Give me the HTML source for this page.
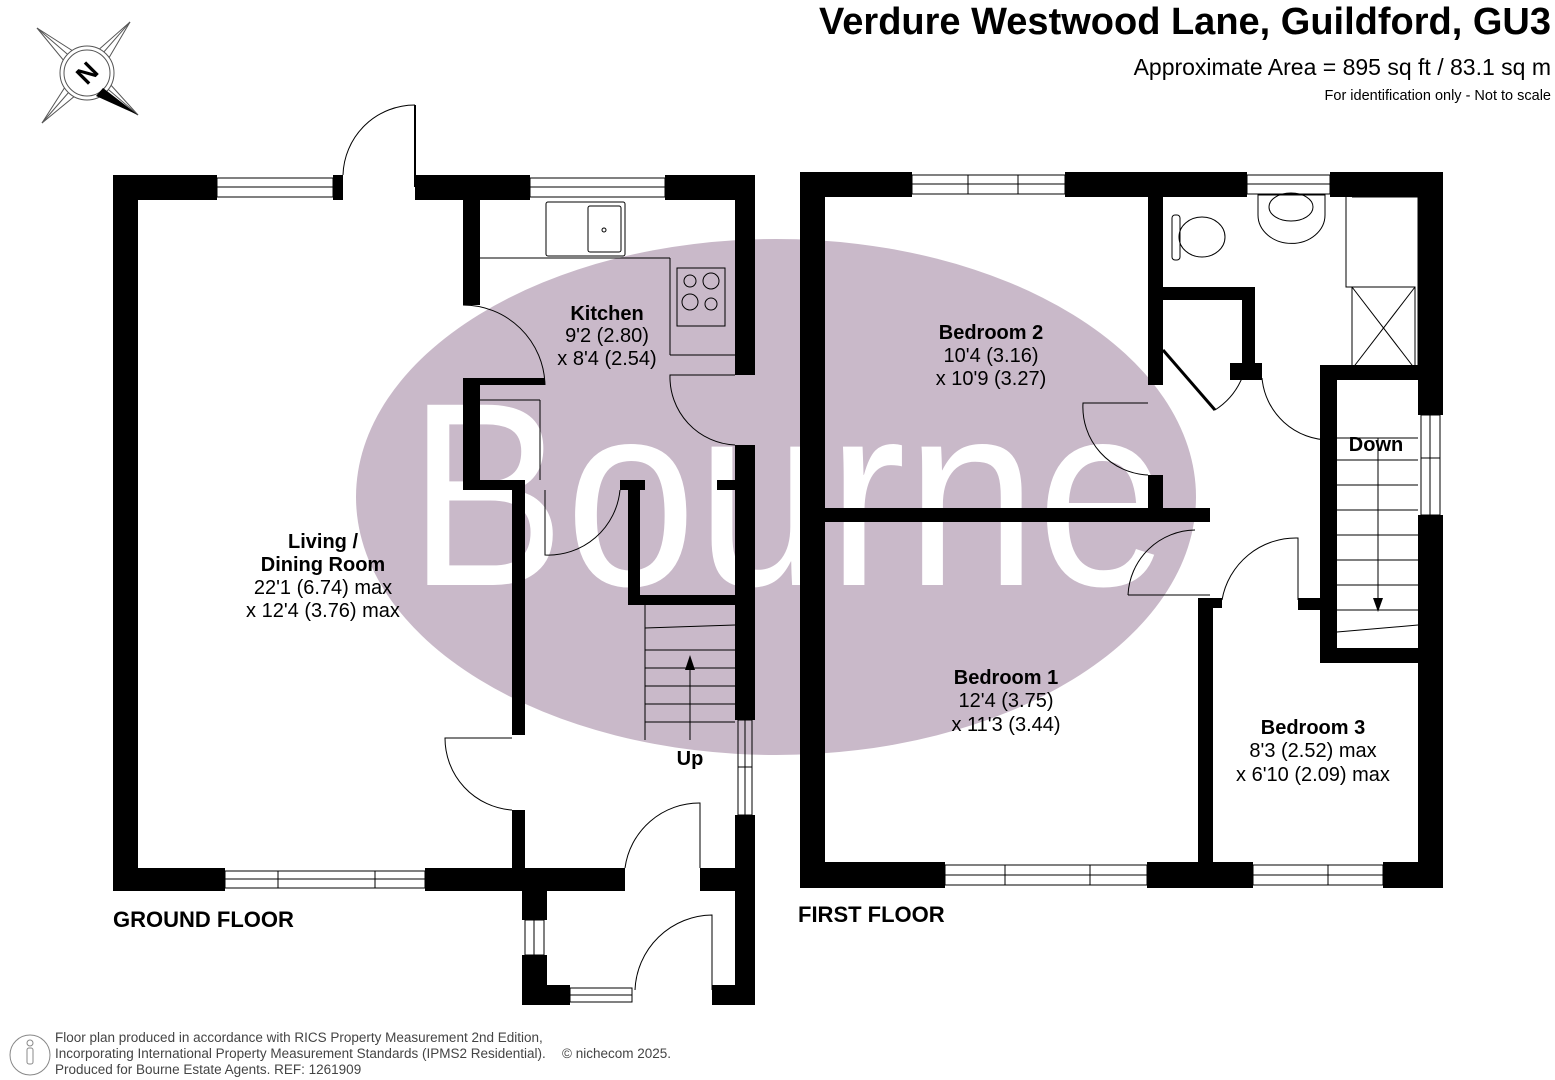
<!DOCTYPE html>
<html><head><meta charset="utf-8"><style>
html,body{margin:0;padding:0;background:#fff;}
svg{display:block;}
text{font-family:"Liberation Sans",Arial,sans-serif;}
</style></head><body>
<svg width="1555" height="1080" viewBox="0 0 1555 1080" xmlns="http://www.w3.org/2000/svg">
<rect width="1555" height="1080" fill="#fff"/>
<ellipse cx="776" cy="497" rx="420" ry="258" fill="#c9b9c9"/>
<text x="408" y="585" font-size="262" fill="#fff" textLength="760" lengthAdjust="spacingAndGlyphs">Bourne</text>

<g stroke="#555" stroke-width="1" fill="none">
<polygon points="37,28 87,60 130,22 100,73 138,115 87,86 42,123 74,73"/>
<line x1="37" y1="28" x2="138" y2="115"/><line x1="130" y1="22" x2="42" y2="123"/>
<circle cx="87" cy="73" r="27" fill="#fff"/><circle cx="87" cy="73" r="23"/>
</g>
<polygon points="103,88 138,115 96,96" fill="#000"/>
<text x="87" y="82" font-size="26" font-weight="bold" text-anchor="middle" transform="rotate(-45 87 73)">N</text>

<text x="1551" y="34" font-size="38" font-weight="bold" text-anchor="end">Verdure Westwood Lane, Guildford, GU3</text>
<text x="1551" y="75" font-size="23" text-anchor="end">Approximate Area = 895 sq ft / 83.1 sq m</text>
<text x="1551" y="100" font-size="14.5" text-anchor="end">For identification only - Not to scale</text>

<g fill="#000">
<rect x="113" y="175" width="25" height="716"/>
<rect x="113" y="175" width="104" height="25"/>
<rect x="333" y="175" width="10" height="25"/>
<rect x="415" y="175" width="115" height="25"/>
<rect x="665" y="175" width="90" height="25"/>
<rect x="735" y="175" width="20" height="200"/>
<rect x="735" y="445" width="20" height="275"/>
<rect x="735" y="815" width="20" height="190"/>
<rect x="463" y="200" width="17" height="105"/>
<rect x="463" y="378" width="17" height="112"/>
<rect x="463" y="378" width="82" height="7"/>
<rect x="463" y="480" width="62" height="10"/>
<rect x="512" y="480" width="13" height="255"/>
<rect x="512" y="810" width="13" height="60"/>
<rect x="620" y="480" width="25" height="10"/>
<rect x="628" y="480" width="12" height="125"/>
<rect x="628" y="595" width="107" height="10"/>
<rect x="717" y="480" width="18" height="10"/>
<rect x="113" y="868" width="112" height="23"/>
<rect x="425" y="868" width="200" height="23"/>
<rect x="700" y="868" width="55" height="23"/>
<rect x="522" y="890" width="25" height="30"/>
<rect x="522" y="955" width="25" height="50"/>
<rect x="522" y="985" width="48" height="20"/>
<rect x="712" y="985" width="43" height="20"/>

<rect x="800" y="172" width="25" height="716"/>
<rect x="800" y="172" width="112" height="25"/>
<rect x="1065" y="172" width="182" height="25"/>
<rect x="1330" y="172" width="113" height="25"/>
<rect x="1418" y="172" width="25" height="243"/>
<rect x="1418" y="515" width="25" height="373"/>
<rect x="800" y="862" width="145" height="26"/>
<rect x="1147" y="862" width="106" height="26"/>
<rect x="1383" y="862" width="60" height="26"/>
<rect x="1148" y="197" width="15" height="188"/>
<rect x="1148" y="475" width="15" height="35"/>
<rect x="825" y="508" width="385" height="14"/>
<rect x="1163" y="287" width="92" height="13"/>
<rect x="1242" y="287" width="13" height="91"/>
<rect x="1230" y="363" width="32" height="17"/>
<rect x="1320" y="365" width="98" height="15"/>
<rect x="1320" y="365" width="17" height="298"/>
<rect x="1320" y="648" width="98" height="15"/>
<rect x="1198" y="598" width="15" height="264"/>
<rect x="1198" y="598" width="24" height="10"/>
<rect x="1298" y="598" width="22" height="12"/>
</g>

<g fill="none" stroke="#000" stroke-width="1">
<rect x="217" y="178" width="116" height="19"/><line x1="217" y1="187" x2="333" y2="187"/>
<rect x="530" y="178" width="135" height="19"/><line x1="530" y1="187" x2="665" y2="187"/>
<rect x="225" y="871" width="200" height="17"/><line x1="225" y1="879" x2="425" y2="879"/>
<line x1="278" y1="871" x2="278" y2="888"/><line x1="375" y1="871" x2="375" y2="888"/>
<rect x="738" y="720" width="14" height="95"/><line x1="745" y1="720" x2="745" y2="815"/><line x1="738" y1="767" x2="752" y2="767"/>
<rect x="525" y="920" width="19" height="35"/><line x1="534" y1="920" x2="534" y2="955"/>
<rect x="570" y="988" width="62" height="14"/><line x1="570" y1="995" x2="632" y2="995"/>
<rect x="738" y="910" width="14" height="35"/><line x1="745" y1="910" x2="745" y2="945"/>
<path d="M343,175 A72,72 0 0 1 415,105"/><line x1="415" y1="105" x2="415" y2="187" stroke-width="2"/>
<path d="M463,305 A82,82 0 0 1 545,385"/>
<path d="M735,375 L670,375 A68,68 0 0 0 735,445"/>
<path d="M545,490 L545,555 A72,72 0 0 0 620,490"/>
<path d="M512,738 L445,738 A72,72 0 0 0 512,810"/>
<path d="M700,868 L700,803 A75,75 0 0 0 625,868"/>
<path d="M712,990 L712,915 A78,78 0 0 0 635,990"/>
<rect x="546" y="202" width="79" height="54" rx="2"/><rect x="588" y="206" width="33" height="46" rx="2"/>
<line x1="480" y1="258" x2="670" y2="258"/><line x1="670" y1="258" x2="670" y2="355"/><line x1="670" y1="355" x2="735" y2="355"/>
<rect x="677" y="268" width="48" height="58"/>
<circle cx="690" cy="281" r="6"/><circle cx="711" cy="281" r="8"/><circle cx="690" cy="302" r="8"/><circle cx="711" cy="304" r="6"/>
<line x1="480" y1="400" x2="540" y2="400"/><line x1="540" y1="400" x2="540" y2="480"/>
<line x1="645" y1="605" x2="645" y2="740"/>
<line x1="645" y1="628" x2="735" y2="625"/><line x1="645" y1="650" x2="735" y2="650"/>
<line x1="645" y1="668" x2="735" y2="668"/><line x1="645" y1="686" x2="735" y2="686"/>
<line x1="645" y1="704" x2="735" y2="704"/><line x1="645" y1="722" x2="735" y2="722"/>
<line x1="690" y1="740" x2="690" y2="660"/>

<rect x="912" y="175" width="153" height="19"/><line x1="912" y1="184" x2="1065" y2="184"/>
<line x1="968" y1="175" x2="968" y2="194"/><line x1="1018" y1="175" x2="1018" y2="194"/>
<rect x="1247" y="175" width="83" height="19"/><line x1="1247" y1="184" x2="1330" y2="184"/>
<rect x="1421" y="415" width="19" height="100"/><line x1="1430" y1="415" x2="1430" y2="515"/><line x1="1421" y1="458" x2="1440" y2="458"/>
<rect x="945" y="865" width="202" height="20"/><line x1="945" y1="875" x2="1147" y2="875"/>
<line x1="1005" y1="865" x2="1005" y2="885"/><line x1="1090" y1="865" x2="1090" y2="885"/>
<rect x="1253" y="865" width="130" height="20"/><line x1="1253" y1="875" x2="1383" y2="875"/><line x1="1328" y1="865" x2="1328" y2="885"/>
<path d="M1148,403 L1083,403 A68,68 0 0 0 1148,475"/>
<line x1="1163" y1="350" x2="1215" y2="410" stroke-width="3"/><path d="M1215,410 A70,70 0 0 0 1242,378"/>
<path d="M1262,378 A68,68 0 0 0 1330,440"/>
<path d="M1128,595 L1210,595 M1128,595 A68,68 0 0 1 1195,530"/>
<path d="M1222,600 A75,75 0 0 1 1298,538 L1298,600"/>
<ellipse cx="1202" cy="237" rx="23" ry="20"/><rect x="1172" y="215" width="8" height="45" rx="3"/>
<path d="M1258,195 L1325,195 L1325,215 A33,28 0 0 1 1258,215 Z"/><ellipse cx="1291" cy="207" rx="22" ry="14"/>
<path d="M1352,197 L1418,197 L1418,372 L1352,372 L1352,287 L1346,287 L1346,197"/>
<rect x="1352" y="287" width="63" height="82"/>
<line x1="1352" y1="287" x2="1415" y2="369"/><line x1="1415" y1="287" x2="1352" y2="369"/>
<line x1="1337" y1="438" x2="1418" y2="438"/>
<line x1="1337" y1="460" x2="1418" y2="460"/><line x1="1337" y1="485" x2="1418" y2="485"/>
<line x1="1337" y1="510" x2="1418" y2="510"/><line x1="1337" y1="535" x2="1418" y2="535"/>
<line x1="1337" y1="560" x2="1418" y2="560"/><line x1="1337" y1="585" x2="1418" y2="585"/>
<line x1="1337" y1="610" x2="1418" y2="610"/><line x1="1337" y1="632" x2="1418" y2="625"/>
<line x1="1378" y1="438" x2="1378" y2="600"/>
<circle cx="30" cy="1055" r="20" stroke="#888"/>
<rect x="27" y="1048" width="6" height="16" rx="2" stroke="#888"/><circle cx="30" cy="1043" r="3" stroke="#888"/>
</g>
<polygon points="685,670 695,670 690,655" fill="#000"/>
<polygon points="1373,598 1383,598 1378,612" fill="#000"/>
<circle cx="604" cy="230" r="2" fill="none" stroke="#000"/>

<g font-size="20" text-anchor="middle">
<text x="607" y="320" font-weight="bold">Kitchen</text>
<text x="607" y="342">9'2 (2.80)</text>
<text x="607" y="365">x 8'4 (2.54)</text>
<text x="323" y="548" font-weight="bold">Living /</text>
<text x="323" y="571" font-weight="bold">Dining Room</text>
<text x="323" y="594">22'1 (6.74) max</text>
<text x="323" y="617">x 12'4 (3.76) max</text>
<text x="690" y="765" font-weight="bold">Up</text>
<text x="991" y="339" font-weight="bold">Bedroom 2</text>
<text x="991" y="362">10'4 (3.16)</text>
<text x="991" y="385">x 10'9 (3.27)</text>
<text x="1376" y="451" font-weight="bold">Down</text>
<text x="1006" y="684" font-weight="bold">Bedroom 1</text>
<text x="1006" y="707">12'4 (3.75)</text>
<text x="1006" y="731">x 11'3 (3.44)</text>
<text x="1313" y="734" font-weight="bold">Bedroom 3</text>
<text x="1313" y="757">8'3 (2.52) max</text>
<text x="1313" y="781">x 6'10 (2.09) max</text>
</g>
<text x="113" y="927" font-size="22" font-weight="bold">GROUND FLOOR</text>
<text x="798" y="922" font-size="22" font-weight="bold">FIRST FLOOR</text>

<g font-size="13.5" fill="#444">
<text x="55" y="1042">Floor plan produced in accordance with RICS Property Measurement 2nd Edition,</text>
<text x="55" y="1058">Incorporating International Property Measurement Standards (IPMS2 Residential).</text>
<text x="562" y="1058">© nichecom 2025.</text>
<text x="55" y="1074">Produced for Bourne Estate Agents.   REF:  1261909</text>
</g>
</svg>
</body></html>
